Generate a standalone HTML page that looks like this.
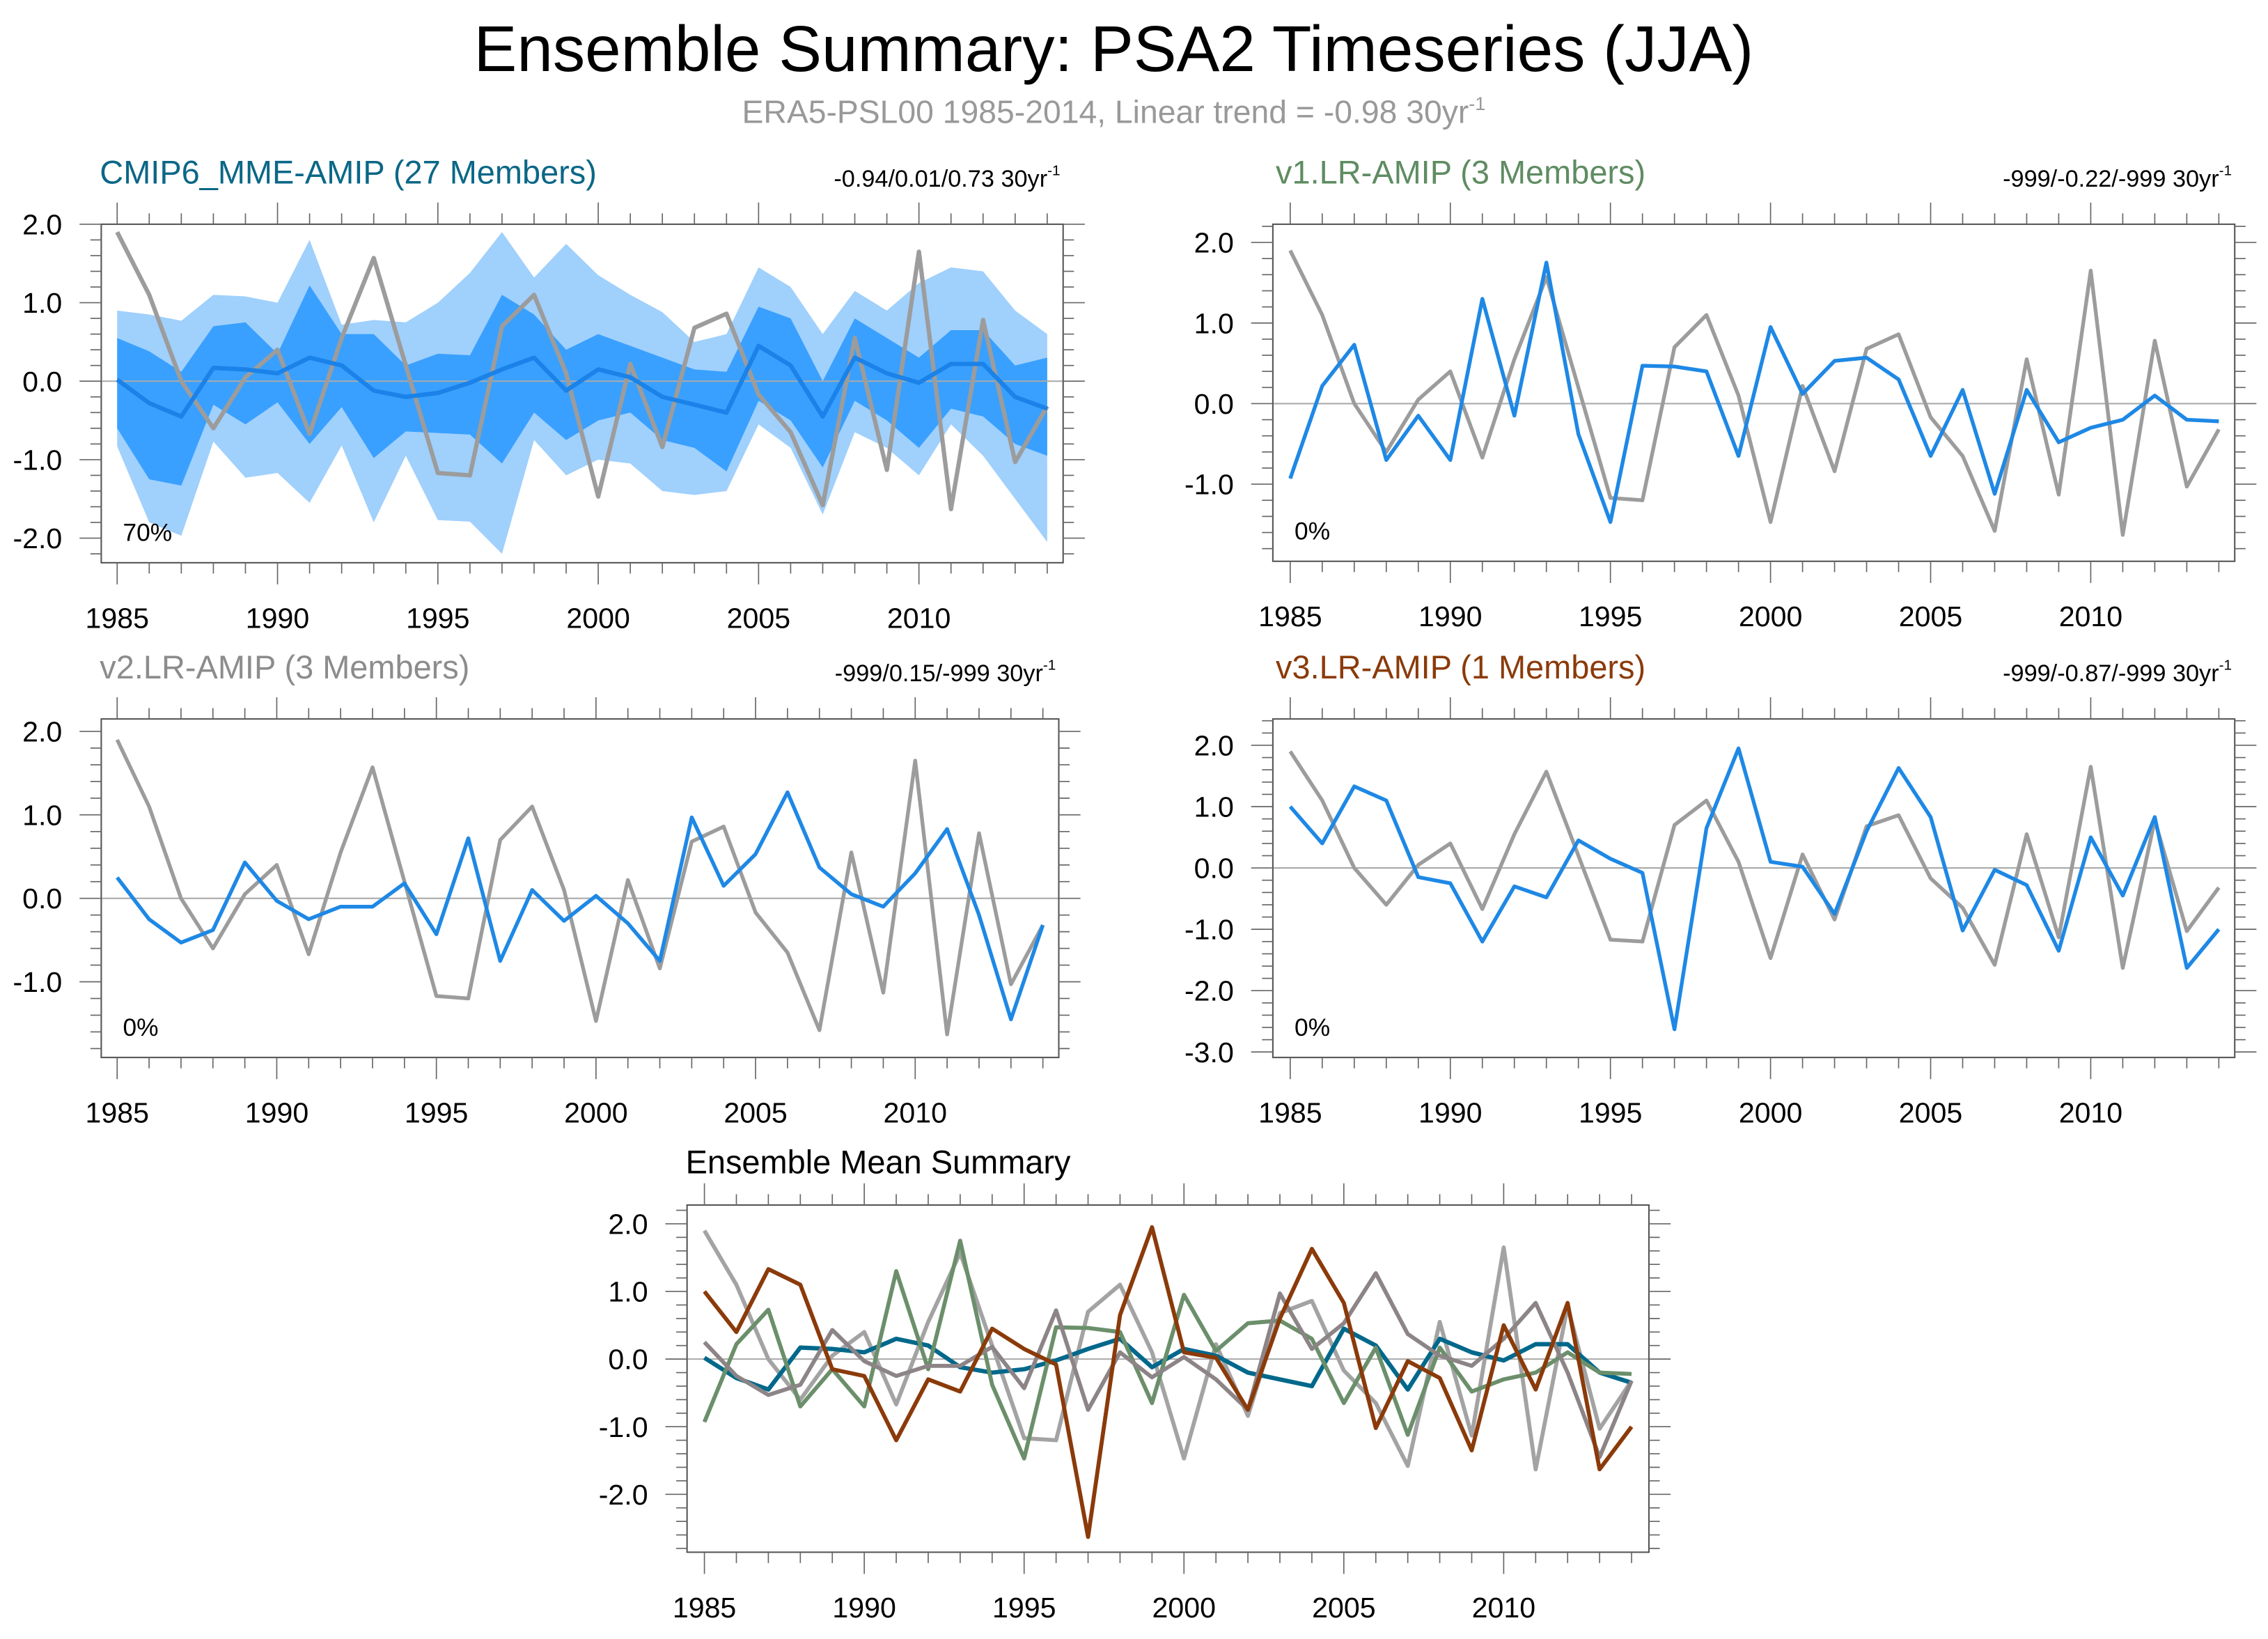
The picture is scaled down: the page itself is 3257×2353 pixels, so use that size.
<!DOCTYPE html>
<html><head><meta charset="utf-8"><style>
html,body{margin:0;padding:0;background:#fff;}
svg{display:block;font-family:"Liberation Sans",Arial,sans-serif;}
</style></head><body>
<svg id="chart" width="3257" height="2353" viewBox="0 0 1568 1133" preserveAspectRatio="none" xmlns="http://www.w3.org/2000/svg">
<text x="770" y="49" font-size="44.6" text-anchor="middle" fill="#000">Ensemble Summary: PSA2 Timeseries (JJA)</text>
<text x="770" y="85" font-size="22.3" text-anchor="middle" fill="#999">ERA5-PSL00 1985-2014, Linear trend = -0.98 30yr<tspan dy="-9" font-size="13">-1</tspan></text>
</svg>
<script>
const years = [1985,1986,1987,1988,1989,1990,1991,1992,1993,1994,1995,1996,1997,1998,1999,2000,2001,2002,2003,2004,2005,2006,2007,2008,2009,2010,2011,2012,2013,2014];
const obs = [1.9,1.1,0.0,-0.6,0.05,0.4,-0.67,0.55,1.57,0.2,-1.17,-1.2,0.7,1.1,0.1,-1.47,0.22,-0.84,0.68,0.86,-0.17,-0.65,-1.58,0.55,-1.13,1.65,-1.63,0.78,-1.03,-0.32];
const mmeMean = [0.02,-0.28,-0.45,0.17,0.15,0.1,0.3,0.2,-0.12,-0.2,-0.15,-0.02,0.15,0.3,-0.12,0.15,0.05,-0.2,-0.3,-0.4,0.45,0.2,-0.45,0.3,0.1,-0.02,0.22,0.22,-0.2,-0.35];
const mmeInnerHi = [0.55,0.38,0.12,0.7,0.75,0.35,1.22,0.6,0.6,0.2,0.35,0.33,1.1,0.85,0.4,0.6,0.45,0.3,0.15,0.12,0.95,0.8,0.0,0.8,0.55,0.3,0.65,0.65,0.2,0.3];
const mmeInnerLo = [-0.6,-1.25,-1.33,-0.3,-0.55,-0.27,-0.8,-0.33,-0.98,-0.64,-0.66,-0.68,-1.05,-0.4,-0.75,-0.5,-0.4,-0.75,-0.85,-1.15,-0.25,-0.5,-1.1,-0.25,-0.5,-0.85,-0.35,-0.45,-0.8,-0.95];
const mmeOuterHi = [0.9,0.85,0.77,1.1,1.08,1.0,1.8,0.72,0.78,0.75,1.0,1.38,1.9,1.32,1.75,1.35,1.1,0.88,0.5,0.6,1.45,1.2,0.6,1.15,0.9,1.25,1.45,1.4,0.9,0.6];
const mmeOuterLo = [-0.83,-1.8,-1.97,-0.77,-1.23,-1.17,-1.55,-0.82,-1.8,-0.95,-1.77,-1.79,-2.2,-0.75,-1.2,-1.0,-1.05,-1.4,-1.45,-1.4,-0.55,-0.85,-1.7,-0.65,-0.85,-1.2,-0.55,-0.95,-1.5,-2.05];
const v1 = [-0.93,0.22,0.73,-0.7,-0.15,-0.7,1.3,-0.15,1.75,-0.38,-1.47,0.47,0.46,0.4,-0.65,0.95,0.12,0.53,0.57,0.3,-0.65,0.17,-1.12,0.17,-0.48,-0.3,-0.2,0.1,-0.2,-0.22];
const v2 = [0.25,-0.25,-0.53,-0.38,0.43,-0.03,-0.25,-0.1,-0.1,0.18,-0.43,0.72,-0.75,0.1,-0.27,0.03,-0.3,-0.75,0.97,0.15,0.53,1.27,0.37,0.05,-0.1,0.3,0.83,-0.2,-1.45,-0.32];
const v3 = [1.0,0.4,1.33,1.1,-0.15,-0.25,-1.2,-0.3,-0.48,0.45,0.15,-0.08,-2.63,0.65,1.95,0.1,0.02,-0.75,0.6,1.63,0.83,-1.02,-0.03,-0.28,-1.35,0.5,-0.45,0.83,-1.63,-1.0];
const xTicks = [1985,1990,1995,2000,2005,2010];

const NS="http://www.w3.org/2000/svg";
const svg=document.getElementById('chart');
function mk(tag,attrs,parent){const e=document.createElementNS(NS,tag);for(const k in attrs)e.setAttribute(k,attrs[k]);(parent||svg).appendChild(e);return e;}

function panel(cfg){
  const g=mk('g',{});
  
  
  const {x0,x1,y0,y1,vTop,vBot}=cfg;
  const xs=v=>cfg.xa+(v-1985)*(cfg.xb-cfg.xa)/29;
  const ys=v=>y0+(vTop-v)*(y1-y0)/(vTop-vBot);
  if(cfg.bands){
    cfg.bands.forEach(b=>{
      let d='M'+years.map((yr,i)=>xs(yr)+','+ys(b.hi[i])).join('L');
      d+='L'+years.slice().reverse().map((yr,j)=>xs(yr)+','+ys(b.lo[29-j])).join('L')+'Z';
      const p=mk('path',{d:d,fill:b.color,stroke:'none'},g);
      
      
    });
  }
  const z=mk('line',{x1:x0,x2:x1,y1:ys(0),y2:ys(0),stroke:'#aaa','stroke-width':1},g);
  
  
  cfg.series.forEach(s=>{
    const pl=mk('polyline',{points:years.map((yr,i)=>xs(yr)+','+ys(s.data[i])).join(' '),fill:'none',stroke:s.color,'stroke-width':s.w||2.6,'stroke-linejoin':'round'},g);
    
    
  });
  const fr=mk('rect',{x:x0,y:y0,width:x1-x0,height:y1-y0,fill:'none',stroke:'#555','stroke-width':1},g);
  
  
  years.forEach(yr=>{
    const major=yr%5===0, L=major?15:7.5, x=xs(yr);
    mk('line',{x1:x,x2:x,y1:y1,y2:y1+L,stroke:'#666','stroke-width':0.8},g);
    mk('line',{x1:x,x2:x,y1:y0,y2:y0-L,stroke:'#666','stroke-width':0.8},g);
  });
  xTicks.forEach(yr=>{
    const t=mk('text',{x:xs(yr),y:y1+45,'font-size':19.8,'text-anchor':'middle',fill:'#000'},g);
    t.textContent=yr;
    
    
  });
  for(let k=Math.ceil(vBot*5);k<=Math.floor(vTop*5);k++){
    const v=k/5, major=k%5===0, L=major?15:7.5, y=ys(v);
    mk('line',{x1:x0,x2:x0-L,y1:y,y2:y,stroke:'#666','stroke-width':0.8},g);
    mk('line',{x1:x1,x2:x1+L,y1:y,y2:y,stroke:'#666','stroke-width':0.8},g);
    if(major){
      const t=mk('text',{x:x0-27,y:y+7,'font-size':19.8,'text-anchor':'end',fill:'#000'},g);
      t.textContent=v.toFixed(1);
      
      
    }
  }
  const ti=mk('text',{x:cfg.titleX,y:y0-(cfg.titleOff||28),'font-size':cfg.titleSize||22.6,fill:cfg.titleColor,'text-anchor':'start'},g);
  ti.textContent=cfg.title;
  
  
  if(cfg.trend){
    const tr=mk('text',{x:x1-2,y:y0-26,'font-size':16.5,'text-anchor':'end',fill:'#000'},g);
    
    
    tr.appendChild(document.createTextNode(cfg.trend+' 30yr'));
    const sp=mk('tspan',{dy:-8,'font-size':10},tr); sp.textContent='-1';
  }
  if(cfg.pct){
    const p=mk('text',{x:x0+15,y:y1-15,'font-size':17,fill:'#000'},g);
    p.textContent=cfg.pct;
    
    
  }
}
const GRAY='#9c9c9c', BLUE='#1e88e5';
panel({name:'panel-cmip6-mme',x0:70,x1:735,y0:155,y1:389,xa:81,xb:724,vTop:2.0,vBot:0-(389-263.5)/54.25,
  bands:[{name:'outer-spread-band',hi:mmeOuterHi,lo:mmeOuterLo,color:'#a0d0fc'},{name:'inner-spread-band',hi:mmeInnerHi,lo:mmeInnerLo,color:'#39a0ff'}],
  series:[{name:'obs-line',data:obs,color:GRAY,w:3},{name:'mme-mean-line',data:mmeMean,color:'#1a82e8',w:3}],
  title:'CMIP6_MME-AMIP (27 Members)',titleX:69,titleColor:'#0b6787',trend:'-0.94/0.01/0.73',pct:'70%'});
panel({name:'panel-v1',x0:880,x1:1545,y0:155,y1:388,xa:892,xb:1534,vTop:(279-155)/55.7,vBot:-(388-279)/55.7,
  series:[{name:'obs-line',data:obs,color:GRAY,w:2.6},{name:'v1-line',data:v1,color:BLUE,w:2.6}],
  title:'v1.LR-AMIP (3 Members)',titleX:882,titleColor:'#5f8c62',trend:'-999/-0.22/-999',pct:'0%'});
panel({name:'panel-v2',x0:70,x1:732,y0:497,y1:731,xa:81,xb:721,vTop:(621-497)/57.7,vBot:-(731-621)/57.7,
  series:[{name:'obs-line',data:obs,color:GRAY,w:2.6},{name:'v2-line',data:v2,color:BLUE,w:2.6}],
  title:'v2.LR-AMIP (3 Members)',titleX:69,titleColor:'#8c8c8c',trend:'-999/0.15/-999',pct:'0%'});
panel({name:'panel-v3',x0:880,x1:1545,y0:497,y1:731,xa:892,xb:1534,vTop:(600-497)/42.4,vBot:-(731-600)/42.4,
  series:[{name:'obs-line',data:obs,color:GRAY,w:2.6},{name:'v3-line',data:v3,color:BLUE,w:2.6}],
  title:'v3.LR-AMIP (1 Members)',titleX:882,titleColor:'#8b3a0a',trend:'-999/-0.87/-999',pct:'0%'});
panel({name:'panel-ensemble-mean-summary',x0:475,x1:1140,y0:833,y1:1073,xa:487,xb:1128,vTop:(939.5-833)/46.75,vBot:-(1073-939.5)/46.75,
  series:[{name:'obs-line',data:obs,color:'#a3a3a3',w:2.8},{name:'mme-mean-line',data:mmeMean,color:'#00688b',w:3},
    {name:'v1-line',data:v1,color:'#6b8f6b',w:2.8},{name:'v2-line',data:v2,color:'#8c8486',w:2.8},{name:'v3-line',data:v3,color:'#8b3a0a',w:2.8}],
  title:'Ensemble Mean Summary',titleX:474,titleColor:'#000',titleSize:22.6,titleOff:22});
</script>
</body></html>
